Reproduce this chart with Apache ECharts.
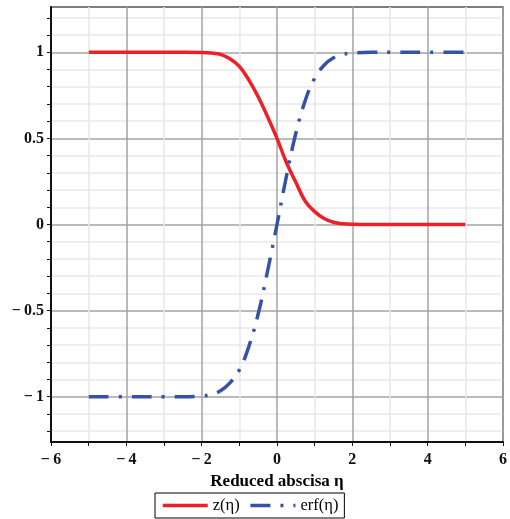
<!DOCTYPE html>
<html>
<head>
<meta charset="utf-8">
<title>z(η) and erf(η)</title>
<script src="https://cdn.jsdelivr.net/npm/echarts@6/dist/echarts.min.js"></script>
<style>
  html, body { margin: 0; padding: 0; background: #fff; }
  #chart { width: 510px; height: 519px; }
</style>
</head>
<body>
<div id="chart"></div>
<script>
// values
const eta = [-5, -4, -3, -2.5, -2, -1.75, -1.5, -1.25, -1, -0.75, -0.5, -0.25, 0,
  0.25, 0.5, 0.75, 1, 1.25, 1.5, 1.75, 2, 2.5, 3, 4, 5];
const zValues = [1, 1, 1, 1, 0.999, 0.996, 0.988, 0.962, 0.918, 0.84, 0.742, 0.626, 0.5,
  0.36, 0.245, 0.135, 0.075, 0.035, 0.013, 0.004, 0.001, 0, 0, 0, 0];
const erfValues = [-1, -1, -1, -1, -0.996, -0.987, -0.966, -0.92, -0.845, -0.71, -0.52, -0.27, 0,
  0.28, 0.53, 0.72, 0.85, 0.925, 0.968, 0.988, 0.995, 1, 1, 1, 1];

const yTicks = [-1.2, -1.1, -1, -0.9, -0.8, -0.7, -0.6, -0.5, -0.4, -0.3, -0.2, -0.1, 0,
  0.1, 0.2, 0.3, 0.4, 0.5, 0.6, 0.7, 0.8, 0.9, 1, 1.1, 1.2];
const yLabels = [-1, -0.5, 0, 0.5, 1];

const major = '#a3a3a3';
const minor = '#e8e8e8';
const font = '"Liberation Serif", "Times New Roman", serif';

function fmt(v) {
  return v < 0 ? '\u2212\u2009' + Math.abs(v) : String(v);
}

const chart = echarts.init(document.getElementById('chart'));
chart.setOption({
  animation: false,
  grid: {
    left: 51, right: 4, top: 7, bottom: 77,
    show: true, borderColor: '#555', borderWidth: 1.5
  },
  legend: {
    left: 155, top: 493,
    padding: [4, 6],
    borderColor: '#000', borderWidth: 1,
    itemWidth: 45, itemHeight: 12, itemGap: 9,
    itemStyle: { opacity: 0 },   // line only, no circle in the middle
    lineStyle: { width: 3.5 },
    textStyle: { fontFamily: font, fontSize: 16.5, color: '#000' },
    data: ['z(η)', 'erf(η)']
  },
  xAxis: {
    type: 'value', min: -6, max: 6, interval: 2,
    name: 'Reduced abscisa η', nameLocation: 'middle', nameGap: 30,
    nameTextStyle: { fontFamily: font, fontWeight: 'bold', fontSize: 17, color: '#000' },
    axisLine: { onZero: false, lineStyle: { color: '#111', width: 2 } },
    axisTick: { length: 4, lineStyle: { color: '#111' } },
    minorTick: { show: true, splitNumber: 2, length: 4, lineStyle: { color: '#111' } },
    axisLabel: { formatter: fmt, fontFamily: font, fontWeight: 'bold', fontSize: 16, color: '#111', margin: 10 },
    splitLine: { lineStyle: { color: major, width: 1.5 } },
    minorSplitLine: { show: true, lineStyle: { color: minor, width: 1.5 } }
  },
  yAxis: {
    type: 'value', min: -1.263, max: 1.263,
    axisLine: { onZero: false, lineStyle: { color: '#111', width: 2 } },
    axisTick: { customValues: yTicks, length: 4, lineStyle: { color: '#111' } },
    axisLabel: { customValues: yLabels, formatter: fmt, fontFamily: font, fontWeight: 'bold', fontSize: 16, color: '#111', margin: 7 },
    // every fifth line (the 0.5 steps) is darker
    splitLine: { lineStyle: { color: [minor, minor, major, minor, minor], width: 1.5 } }
  },
  series: [
    {
      name: 'z(η)', type: 'line', smooth: 0.4, symbol: 'none',
      data: eta.map((x, i) => [x, zValues[i]]),
      lineStyle: { color: '#ee1f26', width: 3.5 },
      itemStyle: { color: '#ee1f26' }
    },
    {
      name: 'erf(η)', type: 'line', smooth: 0.4, symbol: 'none',
      data: eta.map((x, i) => [x, erfValues[i]]),
      lineStyle: { color: '#3552a6', width: 3.5, type: [20, 10, 3, 10] },
      itemStyle: { color: '#3552a6' }
    }
  ]
});
</script>
</body>
</html>
